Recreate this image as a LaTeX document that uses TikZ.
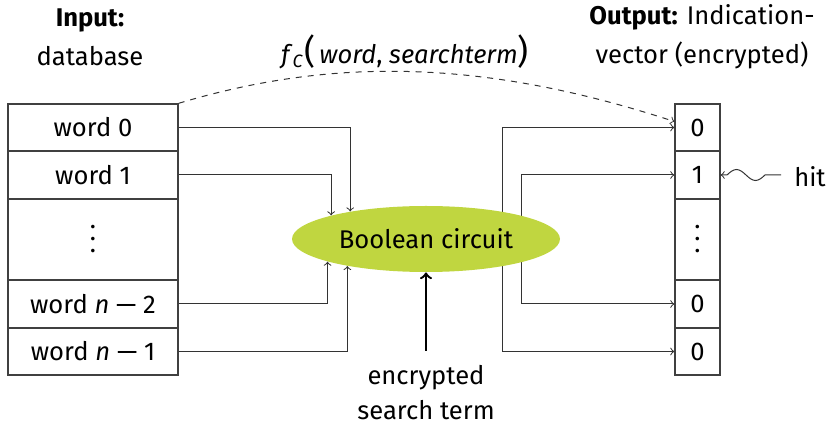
\documentclass[tikz,border=0pt]{standalone}
\usepackage{fontspec}
\setmainfont{Fira Sans}
\usetikzlibrary{shapes.geometric}
\definecolor{circgreen}{RGB}{192,214,64}
\newcommand\myvdots{\vbox{\baselineskip=6pt\lineskiplimit=0pt\hbox{.}\hbox{.}\hbox{.}}}
\begin{document}
\begin{tikzpicture}[x=0.5pt,y=-0.5pt,
  every node/.style={font=\fontsize{12.8}{19.5}\selectfont},
  cell/.style={draw=black!75, line width=0.7pt, minimum width=85pt, minimum height=23.5pt, inner sep=0pt},
  ocell/.style={cell, minimum width=22.5pt},
  tallcell/.style={minimum height=40.5pt},
  conn/.style={draw=black!80, line width=0.5pt},
  bigarrow/.style={draw=black, line width=1.2pt, ->},
]
\useasboundingbox (0,0) rectangle (827,427);

% headings
\node[align=center] (inp) at (90,37) {\textbf{Input:}\\database};
\node[align=center] (outp) at (702,37) {\textbf{Output:} Indication-\\vector (encrypted)};

% database column
\node[cell] (w0) at (93,127.5) {word 0};
\node[cell] (w1) at (93,175) {word 1};
\node[cell,tallcell] (wd) at (93,239.5) {\myvdots};
\node[cell] (wn2) at (93,304) {word \textit{n} — 2};
\node[cell] (wn1) at (93,351.5) {word \textit{n} — 1};

% output column
\node[ocell] (o0) at (697.5,127.5) {0};
\node[ocell] (o1) at (697.5,175) {1};
\node[ocell,tallcell] (od) at (697.5,239.5) {\myvdots};
\node[ocell] (on2) at (697.5,304) {0};
\node[ocell] (on1) at (697.5,351.5) {0};

% right connectors (behind the ellipse)
\coordinate (r1) at (502,239);
\coordinate (r2) at (521,239);
\draw[conn,->] (r1) |- (o0.west);
\draw[conn,->] (r1) |- (on1.west);
\draw[conn,->] (r2) |- (o1.west);
\draw[conn,->] (r2) |- (on2.west);

% boolean circuit
\node[ellipse, fill=circgreen, minimum width=134pt, minimum height=33pt, inner sep=0pt] (bc) at (426,239) {Boolean circuit};

% left connectors
\draw[conn,->] (w0.east) -| (bc.160.4);
\draw[conn,->] (w1.east) -| (bc.166.2);
\draw[conn,->] (wn2.east) -| (bc.193.8);
\draw[conn,->] (wn1.east) -| (bc.199.6);

% search term
\node[align=center, font=\fontsize{12.8}{17.5}\selectfont] (st) at (426,393) {encrypted\\search term};
\draw[bigarrow, shorten <=4pt] (st.north) -- (bc.south);

% dashed function arc
\node (fl) at (405,52) {\textit{f}\textsubscript{\textit{C}}{\fontsize{17}{17}\selectfont(}\,\textit{word}, \textit{searchterm}{\fontsize{17}{17}\selectfont)}};
\draw[conn,dashed,->] (w0.north east) .. controls (330,58) and (480,58) .. ([yshift=3pt]o0.west);

% hit
\node (hit) at (810,177) {hit};
\draw[conn,<-, shorten >=3pt] (o1.east) -- (727,175) sin (736.5,169.5) cos (746,175) sin (755.5,180.5) cos (765,175) -- (o1.east -| hit.west);
\end{tikzpicture}
\end{document}
